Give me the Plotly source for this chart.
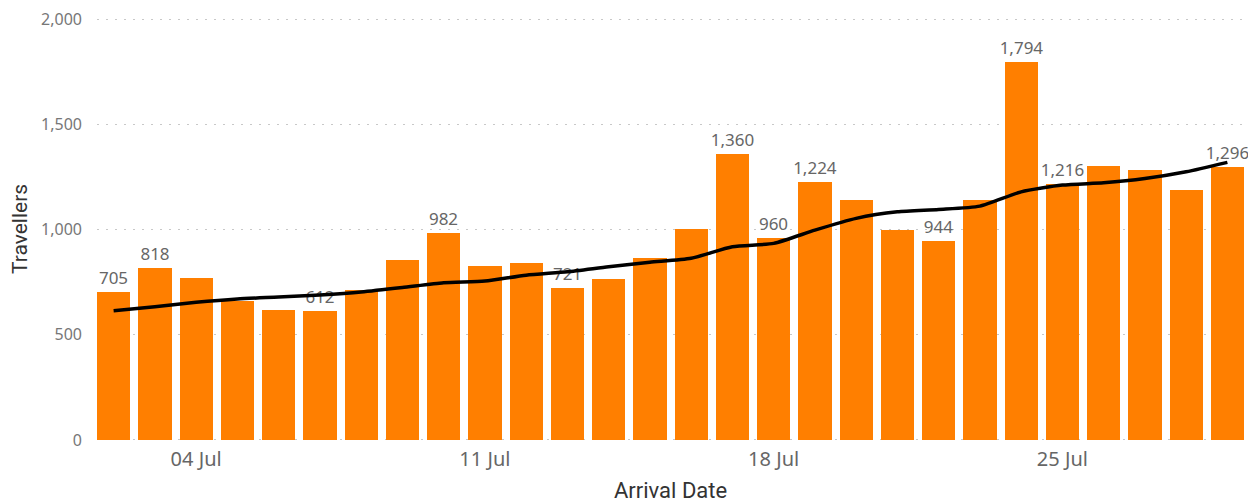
import pandas as pd
import plotly.graph_objects as go

dates = pd.date_range("2021-07-02", "2021-07-29", freq="D")
travellers = [705, 818, 768, 662, 617, 612, 712, 853, 982, 828, 840, 721, 766, 866,
              1002, 1360, 960, 1224, 1140, 996, 944, 1140, 1794, 1216, 1302, 1282, 1187, 1296]
trend = [614, 633, 654, 670, 679, 689, 703, 724, 747, 755, 783, 799, 823, 844,
         863, 918, 934, 997, 1053, 1084, 1095, 1111, 1179, 1211, 1222, 1242, 1274, 1319]
labelled = [True, True, False, False, False, True, False, False, True, False, False, True, False, False,
            False, True, True, True, False, False, True, False, True, True, False, False, False, True]
labels = [f"{v:,}" if s else "" for v, s in zip(travellers, labelled)]

x_ticks = ["2021-07-04", "2021-07-11", "2021-07-18", "2021-07-25"]
x_tick_text = ["04 Jul", "11 Jul", "18 Jul", "25 Jul"]
y_ticks = [0, 500, 1000, 1500, 2000]
y_tick_text = ["0", "500", "1,000", "1,500", "2,000"]

BAR_W = 0.806  # fraction of a day
day_ms = 86400000
TICK_FONT = "Segoe UI, Noto Sans, Open Sans"
TITLE_FONT = "Roboto, DejaVu Sans"

fig = go.Figure()
fig.add_trace(go.Bar(
    x=dates, y=travellers, width=BAR_W * day_ms,
    marker=dict(color="#FF7F00", line=dict(width=0)),
    text=labels, textposition="outside", cliponaxis=False,
    constraintext="none",
    textfont=dict(family=TICK_FONT, size=17, color="#666666"),
    hoverinfo="x+y",
))
fig.add_trace(go.Scatter(
    x=dates, y=trend, mode="lines",
    line=dict(color="#000000", width=3.5, shape="spline", smoothing=0.6),
    hoverinfo="skip",
))

half = pd.Timedelta(days=BAR_W / 2)
fig.update_layout(
    width=1248, height=495,
    margin=dict(l=89, r=12, t=10, b=62, autoexpand=False),
    paper_bgcolor="white", plot_bgcolor="white",
    showlegend=False,
    bargap=0,
    xaxis=dict(
        range=[dates[0] - half, dates[-1] + half],
        tickvals=x_ticks, ticktext=x_tick_text,
        tickfont=dict(family=TICK_FONT, size=20, color="#666666"),
        showgrid=False, zeroline=False, showline=False, ticks="",
        automargin=False, ticklabelstandoff=4, ticklabeloverflow="allow",
    ),
    yaxis=dict(
        range=[-5, 2005],
        tickvals=y_ticks, ticktext=y_tick_text,
        tickfont=dict(family=TICK_FONT, size=16, color="#777777"),
        showgrid=True, gridcolor="#C8C8C8", griddash="2px,7px", gridwidth=1,
        zeroline=False, showline=False, ticks="", ticklabelstandoff=14,
        automargin=False, ticklabeloverflow="allow",
    ),
    annotations=[
        dict(text="Arrival Date", xref="paper", yref="paper", x=0.5, y=-0.117,
             xanchor="center", yanchor="middle", showarrow=False,
             font=dict(family=TITLE_FONT, size=22, color="#333333")),
        dict(text="Travellers", xref="paper", yref="paper", x=-0.0675, y=0.5,
             xanchor="center", yanchor="middle", showarrow=False, textangle=-90,
             font=dict(family=TITLE_FONT, size=21, color="#333333")),
    ],
)

fig.write_html("out.html")
